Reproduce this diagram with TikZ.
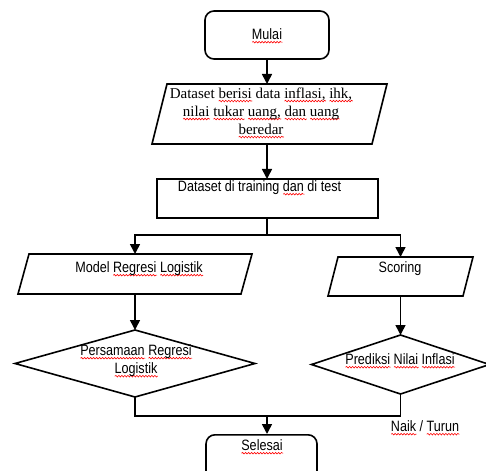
\documentclass[tikz,border=0pt]{standalone}
\usepackage{fontspec}
\setmainfont{Liberation Serif}
\newfontfamily\nar{Liberation Sans}[FakeStretch=0.84]
\usepackage{xcolor}
\usetikzlibrary{arrows.meta,calc,decorations.pathmorphing}
\newsavebox\rwbox
\newlength\rwlen
\newcommand\rw[1]{\sbox\rwbox{#1}\setlength\rwlen{\wd\rwbox}\leavevmode\rlap{\tikz[baseline=0pt,x=1pt,y=1pt]\draw[red,sharp corners,line width=0.6pt,line cap=round,decorate,decoration={snake,amplitude=0.8pt,segment length=3pt}] (0pt,-2.6pt) -- (\the\rwlen,-2.6pt);}\usebox\rwbox}
\begin{document}
\begin{tikzpicture}[x=1pt,y=-1pt,
  holder/.style={draw=none,inner sep=0pt,outer sep=0pt},
  sans/.style={font=\nar\fontsize{15}{18}\selectfont,inner sep=0pt,align=center},
  serif/.style={font=\fontsize{15}{18}\selectfont,inner sep=0pt,align=center},
  line/.style={line width=1.6pt,line join=miter},
  arr/.style={line width=1.6pt,-{Triangle[width=10pt,length=10pt]}},
  term/.style={draw,line width=1.6pt,rounded corners=9pt,inner sep=0pt}]
\useasboundingbox (0,0) rectangle (486,470);
\clip (0,0) rectangle (486,470);
% start
\node[term,minimum width=124pt,minimum height=48pt] (mulai) at (267,35) {};
\node[sans] (mulait) at (267,36) {\rw{Mulai}};
% dataset parallelogram
\node[holder,minimum width=235pt,minimum height=60pt] (p1) at (269.5,114) {};
\draw[line] ($(p1.north west)+(15,0)$) -- (p1.north east) -- ($(p1.south east)+(-15,0)$) -- (p1.south west) -- cycle;
\node[serif] (p1t) at (261,113) {Dataset \rw{berisi} data \rw{inflasi,} \rw{ihk,}\\ \rw{nilai} \rw{tukar} \rw{uang,} \rw{dan} \rw{uang}\\ \rw{beredar}};
% training box
\node[holder,draw,line width=1.6pt,minimum width=221pt,minimum height=39pt] (box2) at (267.5,198.5) {};
\node[sans] (box2t) at (259.5,188) {Dataset di training \rw{dan} di test};
% left parallelogram
\node[holder,minimum width=234pt,minimum height=40pt] (lp) at (135,274) {};
\draw[line] ($(lp.north west)+(11,0)$) -- (lp.north east) -- ($(lp.south east)+(-11,0)$) -- (lp.south west) -- cycle;
\node[sans] (lpt) at (139,269) {Model \rw{Regresi} \rw{Logistik}};
% right parallelogram
\node[holder,minimum width=145pt,minimum height=39pt] (rp) at (400.5,276.5) {};
\draw[line] ($(rp.north west)+(10,0)$) -- (rp.north east) -- ($(rp.south east)+(-10,0)$) -- (rp.south west) -- cycle;
\node[sans] (rpt) at (400,269) {Scoring};
% left diamond
\node[holder,minimum width=240pt,minimum height=67pt] (ld) at (135,363.5) {};
\draw[line] (ld.north) -- (ld.east) -- (ld.south) -- (ld.west) -- cycle;
\node[sans] (ldt) at (136,361) {\rw{Persamaan} \rw{Regresi}\\ \rw{Logistik}};
% right diamond
\node[holder,minimum width=178pt,minimum height=59pt] (rd) at (400.5,364.5) {};
\draw[line] (rd.north) -- (rd.east) -- (rd.south) -- (rd.west) -- cycle;
\node[sans] (rdt) at (400,361) {\rw{Prediksi} \rw{Nilai} \rw{Inflasi}};
% end
\node[term,minimum width=111pt,minimum height=46pt,anchor=north] (selesai) at (261.5,434) {};
\node[sans] (selesait) at (262,447) {\rw{Selesai}};
\node[sans] (naik) at (425,428) {\rw{Naik} / \rw{Turun}};
% connectors
\draw[arr] (mulai.south) -- (mulai.south |- p1.north);
\draw[arr] (mulai.south |- p1.south) -- (mulai.south |- box2.north);
\coordinate (split) at (267,235);
\draw[line] (mulai.south |- box2.south) -- (split);
\draw[arr] (split) -| (lp.north);
\draw[arr] (split) -| (rp.north);
\draw[arr] (lp.south) -- (lp.south |- ld.north);
\draw[arr] (rp.south) -- (rp.south |- rd.north);
\coordinate (join) at (267,416);
\draw[line] (ld.south) |- (join);
\draw[line] (rd.south) |- (join);
\draw[arr] (join) -- (join |- selesai.north);
\end{tikzpicture}
\end{document}
